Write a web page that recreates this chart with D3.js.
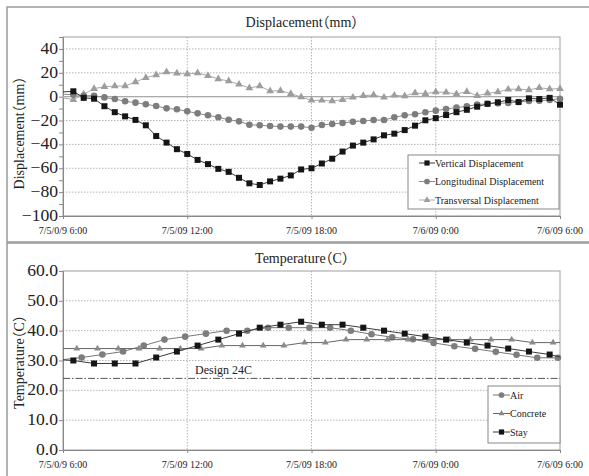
<!DOCTYPE html>
<html>
<head>
<meta charset="utf-8">
<script src="https://cdn.jsdelivr.net/npm/d3@7.9.0/dist/d3.min.js"></script>
<style>
  body { margin: 0; background: #fff; }
  svg text {
    font-family: "Liberation Serif", "Times New Roman", "Noto Sans CJK JP", serif;
    font-feature-settings: "halt";
  }
</style>
</head>
<body>
<svg id="chart" width="589" height="476"></svg>
<script>
const xTickLabels = ["7/5/0/9 6:00", "7/5/09 12:00", "7/5/09 18:00", "7/6/09 0:00", "7/6/09 6:00"];

// displacement: 6:00, then every 30 min until 6:00 next day (first value has no marker)
const dispNames = ["Vertical Displacement", "Longitudinal Displacement", "Transversal Displacement"];
const vertical = [4, 4.5, -1, -1.7, -8, -13, -16.5, -19.5, -24,
  -33, -38.5, -44, -48, -53, -56.5, -60.5, -63,
  -68, -72.6, -74, -71, -68.7, -66, -61, -60,
  -56, -52, -46, -41, -38.5, -35.8, -32.4, -31,
  -28, -24.3, -19.8, -18, -15.4, -13, -11, -8.4,
  -6, -4.7, -2.8, -4.5, -1.4, -2, -1, -6.7];
const longitudinal = [2, 1.7, 0.8, 0.8, -0.6, -2, -3.9, -5, -6.4,
  -7.8, -9.8, -10.6, -12.3, -14, -15.6, -17.3, -19.3,
  -20.7, -23.5, -24, -24.6, -25.1, -25.1, -25.1, -26,
  -23.7, -22.9, -22, -21, -20.4, -19.6, -19.6, -17.3,
  -15.6, -14.8, -13.1, -11.7, -10.3, -9.2, -8.1, -6.7,
  -5.9, -5.6, -5.3, -4.5, -3.6, -3.4, -2.8, -1.7];
const transversal = [-1, -2.5, 2, 6.7, 8.4, 8.9, 8.9, 12.3, 15.9,
  18.2, 20.7, 19.6, 19, 19.8, 17.6, 14.8, 13.1,
  10.3, 7.3, 8.9, 4.7, 5, 2.5, -0.3, -3.1,
  -3.1, -3.6, -2.5, -0.6, 0.8, 1.4, -0.6, 1.1,
  0.6, 3.1, 2.5, 3.9, 3.6, 2.2, 4.2, 0.8,
  2.8, 3.9, 6.1, 6.4, 5.6, 7.5, 6.4, 6.7];
const dispTicks = [40, 20, 0, -20, -40, -60, -80, -100];

// temperature: value at 6:00, 24 hourly readings (offset minutes past the hour), value at 6:00 next day
const tempNames = ["Air", "Concrete", "Stay"];
const tempOffsets = [54, 40, 30];
const air = [30.3, 31, 32, 33, 35, 37, 38, 39, 40,
  40, 41, 41, 41, 41, 40, 38.8, 37.8,
  37.1, 35.9, 34.8, 33.9, 32.9, 31.9, 30.9, 30.9, 30.9];
const concrete = [34, 34, 34, 34, 34, 34, 34, 34, 35,
  35, 35, 35, 36, 36, 37, 37, 37,
  37, 37, 37, 37, 37, 37, 36, 36, 36];
const stay = [30.2, 30, 29, 29, 29, 31, 33, 35, 37,
  39, 41, 42, 43, 42, 42, 41, 40,
  39, 38, 37, 36, 35, 34, 33, 32, 31.2];
const tempTicks = [0, 10, 20, 30, 40, 50, 60];
const designTemp = 24;

const svg = d3.select("#chart");
const t0 = new Date(2009, 6, 5, 6, 0);
const t1 = new Date(2009, 6, 6, 6, 0);
const tickTimes = d3.range(5).map(i => d3.timeHour.offset(t0, i * 6));

const x = d3.scaleTime().domain([t0, t1]).range([63, 560]);
const yD = d3.scaleLinear().domain([-100, 50]).range([216, 37]);
const yT = d3.scaleLinear().domain([0, 60]).range([450, 271]);

const symbols = { square: d3.symbolSquare, circle: d3.symbolCircle, triangle: d3.symbolTriangle };

// frames
svg.append("rect").attr("x", 7).attr("y", 7).attr("width", 600).attr("height", 235)
  .attr("fill", "none").attr("stroke", "#9a9a9a").attr("stroke-width", 1.5);
svg.append("rect").attr("x", 7).attr("y", 243).attr("width", 600).attr("height", 250)
  .attr("fill", "none").attr("stroke", "#9a9a9a").attr("stroke-width", 1.5);

function frame(y, yTicks, gridTicks, minorTicks, fmt) {
  const [yb, yt] = y.range();
  const g = svg.append("g");
  // horizontal grid
  g.selectAll("line.hg").data(gridTicks).join("line")
    .attr("x1", 63).attr("x2", 560)
    .attr("y1", d => y(d)).attr("y2", d => y(d))
    .attr("stroke", "#b5b5b5").attr("stroke-dasharray", "1.5,1.5");
  // vertical grid
  g.selectAll("line.vg").data(tickTimes.slice(1, 4)).join("line")
    .attr("x1", d => x(d)).attr("x2", d => x(d))
    .attr("y1", yt).attr("y2", yb)
    .attr("stroke", "#b5b5b5").attr("stroke-dasharray", "1.5,1.5");
  // plot border
  g.append("rect").attr("x", 63).attr("y", yt).attr("width", 497).attr("height", yb - yt)
    .attr("fill", "none").attr("stroke", "#a0a0a0");

  const ya = g.append("g").attr("transform", "translate(63,0)")
    .call(d3.axisLeft(y).tickValues(minorTicks).tickSize(4).tickFormat(""));
  ya.select(".domain").attr("stroke", "#888");
  ya.selectAll(".tick line").attr("stroke", "#888");
  g.selectAll("text.yl").data(yTicks).join("text")
    .attr("transform", d => `translate(58,${y(d) + 5}) scale(1.1,1)`)
    .attr("text-anchor", "end").style("font-size", "16px").attr("fill", "#222")
    .text(fmt);

  const xa = g.append("g").attr("transform", `translate(0,${yb})`)
    .call(d3.axisBottom(x).tickValues(tickTimes).tickSize(3).tickFormat(""));
  xa.select(".domain").attr("stroke", "#888");
  xa.selectAll(".tick line").attr("stroke", "#888");
  g.selectAll("text.xl").data(tickTimes).join("text")
    .attr("x", d => x(d)).attr("y", yb + 17.5)
    .attr("text-anchor", "middle").style("font-size", "10px").attr("fill", "#222")
    .text((d, i) => xTickLabels[i]);
}

function marker(sel, shape, size, fill) {
  sel.append("path").attr("d", d3.symbol(symbols[shape], size)).attr("fill", fill);
}

// ---------- Displacement ----------
frame(yD, dispTicks, dispTicks, d3.range(-100, 51, 10), d => d < 0 ? "\u2212" + Math.abs(d) : d);
svg.append("line").attr("x1", 63).attr("x2", 560).attr("y1", yD(0)).attr("y2", yD(0))
  .attr("stroke", "#aaa").attr("stroke-width", 1.2);

const dispTime = i => d3.timeMinute.offset(t0, i * 30);
const dispSeries = [
  { name: dispNames[0], values: vertical, shape: "square", size: 36, fill: "#151515", line: "#3a3a3a" },
  { name: dispNames[1], values: longitudinal, shape: "circle", size: 34, fill: "#7d7d7d", line: "#8a8a8a" },
  { name: dispNames[2], values: transversal, shape: "triangle", size: 26, fill: "#9d9d9d", line: "#aaaaaa" }
];
const lineD = d3.line().x((d, i) => x(dispTime(i))).y(d => yD(d));
[...dispSeries].reverse().forEach(s => {
  svg.append("path").datum(s.values).attr("d", lineD)
    .attr("fill", "none").attr("stroke", s.line).attr("stroke-width", 1);
  svg.append("g").selectAll("path").data(s.values.slice(1)).join("path")
    .attr("transform", (d, i) => `translate(${x(dispTime(i + 1))},${yD(d)})`)
    .attr("d", d3.symbol(symbols[s.shape], s.size))
    .attr("fill", s.fill);
});

svg.append("text").attr("x", 302).attr("y", 27).attr("text-anchor", "middle")
  .style("font-size", "14px").attr("fill", "#222").text("Displacement（mm）");
svg.append("text").attr("transform", "rotate(-90)").attr("x", -133).attr("y", 24)
  .attr("text-anchor", "middle").style("font-size", "14px").attr("fill", "#222").text("Displacement（mm）");

const legD = svg.append("g").attr("transform", "translate(408,155)");
legD.append("rect").attr("width", 151).attr("height", 54)
  .attr("fill", "#fff").attr("stroke", "#888");
dispSeries.forEach((s, i) => {
  const ly = 8 + i * 18.5;
  legD.append("line").attr("x1", 11).attr("x2", 27).attr("y1", ly).attr("y2", ly)
    .attr("stroke", s.line);
  const m = legD.append("g").attr("transform", `translate(19,${ly})`);
  marker(m, s.shape, s.size * 0.75, s.fill);
  legD.append("text").attr("x", 27).attr("y", ly + 3.5).style("font-size", "10px")
    .attr("fill", "#222").text(s.name);
});

// ---------- Temperature ----------
frame(yT, tempTicks, tempTicks.slice(1, 6), tempTicks, d => d.toFixed(1));

svg.append("line").attr("x1", 63).attr("x2", 560).attr("y1", yT(designTemp)).attr("y2", yT(designTemp))
  .attr("stroke", "#555").attr("stroke-dasharray", "7,2,1.5,2");
svg.append("text").attr("x", 195).attr("y", yT(designTemp) - 4).style("font-size", "12px")
  .attr("fill", "#222").text("Design 24C");

const tempSeries = [
  { name: tempNames[0], values: air, offset: tempOffsets[0], shape: "circle", size: 34, fill: "#7d7d7d", line: "#777" },
  { name: tempNames[1], values: concrete, offset: tempOffsets[1], shape: "triangle", size: 20, fill: "#8a8a8a", line: "#666" },
  { name: tempNames[2], values: stay, offset: tempOffsets[2], shape: "square", size: 36, fill: "#151515", line: "#3a3a3a" }
];
const tempTime = (s, i) => i === 0 ? t0 : i === s.values.length - 1 ? t1
  : d3.timeMinute.offset(t0, (i - 1) * 60 + s.offset);
tempSeries.forEach(s => {
  const lineT = d3.line().x((d, i) => x(tempTime(s, i))).y(d => yT(d));
  svg.append("path").datum(s.values).attr("d", lineT)
    .attr("fill", "none").attr("stroke", s.line).attr("stroke-width", 1);
  const inner = s.values.slice(1, s.values.length - 1);
  svg.append("g").selectAll("path").data(inner).join("path")
    .attr("transform", (d, i) => `translate(${x(tempTime(s, i + 1))},${yT(d)})`)
    .attr("d", d3.symbol(symbols[s.shape], s.size))
    .attr("fill", s.fill);
});

svg.append("text").attr("x", 302).attr("y", 263).attr("text-anchor", "middle")
  .style("font-size", "14px").attr("fill", "#222").text("Temperature（C）");
svg.append("text").attr("transform", "rotate(-90)").attr("x", -362).attr("y", 24)
  .attr("text-anchor", "middle").style("font-size", "14px").attr("fill", "#222").text("Temperature（C）");

const legT = svg.append("g").attr("transform", "translate(488,386)");
legT.append("rect").attr("width", 72).attr("height", 57)
  .attr("fill", "#fff").attr("stroke", "#888");
tempSeries.forEach((s, i) => {
  const ly = 9 + i * 18.5;
  legT.append("line").attr("x1", 5).attr("x2", 22).attr("y1", ly).attr("y2", ly)
    .attr("stroke", s.line);
  const m = legT.append("g").attr("transform", `translate(13.5,${ly})`);
  marker(m, s.shape, s.size * 0.75, s.fill);
  legT.append("text").attr("x", 22).attr("y", ly + 3.5).style("font-size", "10px")
    .attr("fill", "#222").text(s.name);
});
</script>
</body>
</html>
